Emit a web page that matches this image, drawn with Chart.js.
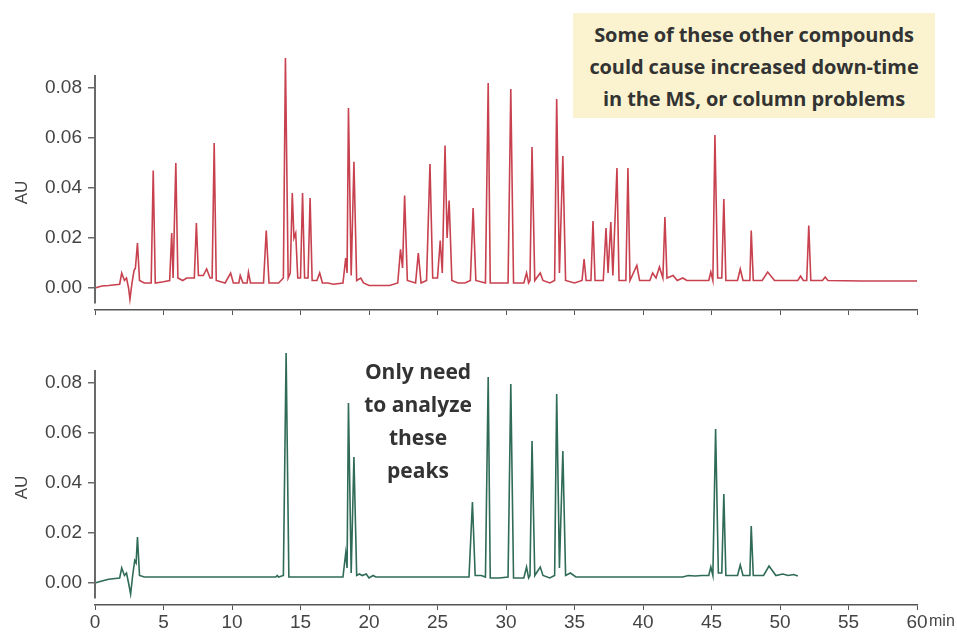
<!DOCTYPE html>
<html>
<head>
<meta charset="utf-8">
<title>Chromatogram comparison</title>
<script src="https://cdn.jsdelivr.net/npm/chart.js@4.4.1/dist/chart.umd.min.js"></script>
<style>
    html, body { margin: 0; padding: 0; background: #fff; }
    #wrap { position: relative; width: 957px; height: 638px; overflow: hidden; }
    canvas { position: absolute; left: 0; }
    #topChart { top: 0; }
    #bottomChart { top: 330px; }
    .note {
        position: absolute;
        font-family: "Open Sans", "Noto Sans", sans-serif;
        font-weight: 700;
        color: #333;
        text-align: center;
    }
    #noteTop {
        left: 573px; top: 13px; width: 362px; height: 105px;
        background: #fbf3cf;
        font-size: 20px; line-height: 32px;
        padding-top: 6px; box-sizing: border-box;
        letter-spacing: -0.1px;
    }
    #noteBottom {
        left: 343px; top: 355px; width: 150px;
        font-size: 21px; line-height: 33px;
    }
    #unit {
        position: absolute; left: 929px; top: 612px;
        font-family: "Liberation Sans", Arial, sans-serif;
        font-size: 16px; color: #444; white-space: nowrap;
    }
</style>
</head>
<body>
<div id="wrap">
    <canvas id="topChart" width="957" height="330"></canvas>
    <canvas id="bottomChart" width="957" height="308"></canvas>
    <div class="note" id="noteTop">Some of these other compounds<br>could cause increased down-time<br>in the MS, or column problems</div>
    <div class="note" id="noteBottom">Only need<br>to analyze<br>these<br>peaks</div>
    <div id="unit">min</div>
</div>
<script>
// Axis ticks
const timeTicks = [0, 5, 10, 15, 20, 25, 30, 35, 40, 45, 50, 55, 60];
const auTicks = [0, 0.02, 0.04, 0.06, 0.08];

// Full sample trace [min, AU]
const fullTrace = [
    [0, 0.000], [0.5, 0.0008], [1.0, 0.001], [1.8, 0.0015], [1.95, 0.006], [2.15, 0.003],
    [2.3, 0.004], [2.45, 0.0], [2.55, -0.0045], [2.7, 0.002], [2.85, 0.007], [2.95, 0.008],
    [3.1, 0.018], [3.25, 0.003], [3.6, 0.002], [4.1, 0.002], [4.25, 0.047], [4.4, 0.002],
    [5.0, 0.0025], [5.45, 0.003], [5.6, 0.022], [5.7, 0.004], [5.9, 0.050], [6.05, 0.004],
    [6.4, 0.003], [6.7, 0.004], [7.0, 0.004], [7.25, 0.004], [7.4, 0.026], [7.55, 0.005],
    [7.9, 0.005], [8.15, 0.0076], [8.4, 0.004], [8.55, 0.004], [8.7, 0.058], [8.85, 0.003],
    [9.5, 0.002], [9.9, 0.006], [10.1, 0.002], [10.5, 0.002], [10.6, 0.005], [10.8, 0.002],
    [11.1, 0.002], [11.2, 0.0063], [11.35, 0.002], [12.3, 0.002], [12.5, 0.023], [12.7, 0.002],
    [13.4, 0.002], [13.75, 0.004], [13.9, 0.092], [14.1, 0.004], [14.25, 0.006], [14.4, 0.038],
    [14.52, 0.02], [14.65, 0.022], [14.8, 0.004], [15.0, 0.004], [15.15, 0.038], [15.3, 0.004],
    [15.55, 0.004], [15.7, 0.036], [15.85, 0.003], [16.2, 0.003], [16.4, 0.006], [16.6, 0.002],
    [17.0, 0.002], [17.4, 0.0015], [18.1, 0.002], [18.3, 0.012], [18.4, 0.006], [18.5, 0.072],
    [18.7, 0.005], [18.9, 0.0505], [19.1, 0.003], [19.4, 0.004], [19.6, 0.002], [20.0, 0.001],
    [21.5, 0.001], [22.1, 0.002], [22.3, 0.0155], [22.45, 0.008], [22.6, 0.037], [22.8, 0.003],
    [23.4, 0.002], [23.6, 0.014], [23.8, 0.002], [24.2, 0.003], [24.45, 0.0496], [24.65, 0.004],
    [25.0, 0.004], [25.2, 0.019], [25.35, 0.006], [25.55, 0.057], [25.7, 0.02], [25.85, 0.035],
    [26.05, 0.003], [26.5, 0.002], [27.0, 0.002], [27.4, 0.003], [27.6, 0.032], [27.8, 0.003],
    [28.5, 0.002], [28.7, 0.082], [28.85, 0.002], [29.5, 0.002], [30.15, 0.002], [30.35, 0.0796],
    [30.55, 0.002], [31.3, 0.002], [31.5, 0.006], [31.65, 0.002], [31.75, 0.003], [31.9, 0.0564],
    [32.1, 0.003], [32.5, 0.006], [32.7, 0.003], [33.2, 0.002], [33.55, 0.003], [33.7, 0.0756],
    [33.9, 0.006], [34.15, 0.0528], [34.35, 0.003], [35.0, 0.002], [35.55, 0.003], [35.7, 0.0116],
    [35.85, 0.003], [36.2, 0.003], [36.35, 0.0268], [36.5, 0.003], [37.1, 0.003], [37.3, 0.024],
    [37.45, 0.006], [37.65, 0.0264], [37.8, 0.005], [38.1, 0.048], [38.25, 0.003], [38.75, 0.003],
    [38.9, 0.048], [39.05, 0.003], [39.55, 0.009], [39.75, 0.003], [40.5, 0.003], [40.7, 0.006],
    [40.95, 0.004], [41.2, 0.0084], [41.45, 0.004], [41.6, 0.0284], [41.75, 0.004], [42.2, 0.005],
    [42.5, 0.003], [42.9, 0.004], [43.2, 0.003], [44.8, 0.003], [44.95, 0.0064], [45.1, 0.003],
    [45.25, 0.0612], [45.45, 0.004], [45.75, 0.004], [45.9, 0.0356], [46.05, 0.003], [46.9, 0.003],
    [47.1, 0.0076], [47.3, 0.003], [47.8, 0.003], [47.9, 0.023], [48.05, 0.003], [48.7, 0.003],
    [49.1, 0.0064], [49.6, 0.003], [51.3, 0.003], [51.5, 0.0048], [51.7, 0.003], [51.95, 0.003],
    [52.1, 0.025], [52.25, 0.003], [53.1, 0.003], [53.3, 0.0044], [53.5, 0.003], [56.0, 0.0028],
    [60.0, 0.0028]
];

// Cleaned-up trace with only the target peaks (lower panel)
const targetTrace = [
    [0, 0.000], [0.5, 0.0008], [1.0, 0.0015], [1.8, 0.002], [1.95, 0.006], [2.15, 0.003],
    [2.3, 0.004], [2.45, 0.0], [2.6, -0.0044], [2.75, 0.003], [2.9, 0.009], [3.0, 0.008],
    [3.1, 0.0184], [3.25, 0.003], [3.6, 0.0024], [13.2, 0.0024], [13.3, 0.003], [13.4, 0.0024],
    [13.75, 0.003], [13.95, 0.092], [14.15, 0.0024], [18.1, 0.0024], [18.3, 0.012], [18.4, 0.006],
    [18.5, 0.072], [18.7, 0.004], [18.9, 0.0504], [19.1, 0.003], [19.3, 0.0036], [19.5, 0.003],
    [19.8, 0.0036], [20.0, 0.002], [20.3, 0.003], [20.5, 0.0024], [27.3, 0.0024], [27.55, 0.0324],
    [27.75, 0.003], [28.2, 0.003], [28.5, 0.0024], [28.7, 0.0824], [28.85, 0.002], [29.5, 0.002],
    [30.15, 0.0024], [30.35, 0.0796], [30.55, 0.002], [31.3, 0.002], [31.5, 0.0064], [31.65, 0.002],
    [31.75, 0.003], [31.9, 0.0568], [32.1, 0.003], [32.5, 0.0064], [32.7, 0.003], [33.2, 0.002],
    [33.55, 0.003], [33.7, 0.0756], [33.9, 0.006], [34.15, 0.0528], [34.35, 0.003], [34.7, 0.004],
    [35.1, 0.0024], [42.9, 0.0024], [43.3, 0.003], [43.8, 0.0028], [44.3, 0.003], [44.8, 0.003],
    [44.95, 0.0064], [45.1, 0.003], [45.3, 0.0616], [45.5, 0.004], [45.75, 0.004], [45.9, 0.0356],
    [46.05, 0.003], [46.9, 0.003], [47.1, 0.0072], [47.3, 0.003], [47.8, 0.003], [47.9, 0.0228],
    [48.05, 0.003], [48.8, 0.003], [49.2, 0.0068], [49.7, 0.003], [50.2, 0.0036], [50.6, 0.003],
    [51.0, 0.0034], [51.3, 0.0028]
];

const axisColor = '#6a6a6a';
const tickFont = { family: '"Liberation Sans", Arial, sans-serif', size: 19 };

// Y axis line drawn short of the x axis, as in the original figure
const offsetYAxis = {
    id: 'offsetYAxis',
    afterDraw(chart) {
        const y = chart.scales.y;
        const ctx = chart.ctx;
        ctx.save();
        ctx.strokeStyle = axisColor;
        ctx.lineWidth = 2;
        ctx.beginPath();
        ctx.moveTo(chart.chartArea.left, y.getPixelForValue(0.0852));
        ctx.lineTo(chart.chartArea.left, y.getPixelForValue(-0.0062));
        ctx.stroke();
        ctx.restore();
    }
};

function initTraceChart(canvasId, trace, color, padTop, xHeight, showXLabels) {
    const ctx = document.getElementById(canvasId).getContext('2d');

    return new Chart(ctx, {
        type: 'line',
        data: {
            datasets: [{
                data: trace.map(p => ({ x: p[0], y: p[1] })),
                borderColor: color,
                borderWidth: 1.6,
                pointRadius: 0,
                tension: 0,
                fill: false,
                clip: false
            }]
        },
        options: {
            responsive: false,
            animation: false,
            layout: { padding: { top: padTop, right: 40, left: 0, bottom: 0 } },
            plugins: {
                legend: { display: false },
                tooltip: { enabled: false }
            },
            scales: {
                x: {
                    type: 'linear',
                    min: 0,
                    max: 60,
                    afterBuildTicks: s => { s.ticks = timeTicks.map(v => ({ value: v })); },
                    afterFit: s => { s.height = xHeight; },
                    border: { display: true, color: '#555', width: 1.5 },
                    grid: { drawOnChartArea: false, drawTicks: true, tickLength: 5, color: '#555' },
                    ticks: {
                        display: showXLabels,
                        color: '#444',
                        font: tickFont,
                        padding: 1,
                        maxRotation: 0,
                        callback: v => String(v)
                    }
                },
                y: {
                    min: -0.0088,
                    max: 0.0852,
                    afterBuildTicks: s => { s.ticks = auTicks.map(v => ({ value: v })); },
                    afterFit: s => { s.width = 95; },
                    border: { display: false },
                    grid: { drawOnChartArea: false, drawTicks: true, tickLength: 7, color: axisColor, lineWidth: 1.5 },
                    ticks: {
                        color: '#444',
                        font: tickFont,
                        padding: 6,
                        callback: v => v.toFixed(2)
                    },
                    title: {
                        display: true,
                        text: 'AU',
                        color: '#444',
                        font: { family: '"Liberation Sans", Arial, sans-serif', size: 17 },
                        padding: { top: 12, bottom: 0 }
                    }
                }
            }
        },
        plugins: [offsetYAxis]
    });
}

initTraceChart('topChart', fullTrace, '#c8414f', 75, 20, false);
initTraceChart('bottomChart', targetTrace, '#2f6b58', 40, 33, true);
</script>
</body>
</html>
